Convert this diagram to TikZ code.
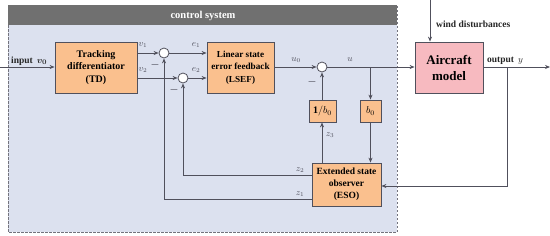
\documentclass[tikz,border=0pt]{standalone}
\usepackage{amsmath}
\usepackage{bm}
\usepackage{fontspec}
\setmainfont{Liberation Serif}
\usetikzlibrary{arrows.meta,calc}
\definecolor{panelfill}{RGB}{220,225,239}
\definecolor{headgray}{RGB}{112,112,112}
\definecolor{boxorange}{RGB}{250,192,142}
\definecolor{boxpink}{RGB}{247,186,192}
\definecolor{linecol}{RGB}{80,80,92}
\tikzset{
  blk/.style={draw=linecol, line width=0.8pt, fill=boxorange, inner sep=0pt, align=center,
    font=\bfseries\fontsize{10}{12.5}\selectfont},
  sumnode/.style={circle, draw=linecol, line width=0.8pt, fill=white, minimum size=10pt, inner sep=0pt},
  conn/.style={draw=linecol, line width=0.8pt},
  arr/.style={conn, -{Stealth[length=5pt,width=4pt]}},
  lbl/.style={font=\fontsize{9}{10}\selectfont, text=linecol, inner sep=0pt},
  txt/.style={font=\bfseries\fontsize{9.5}{11}\selectfont, text=black!85, inner sep=0pt}
}
\begin{document}
\begin{tikzpicture}[x=1pt,y=-1pt]
\useasboundingbox (0,0) rectangle (550,236);
% panel
\fill[panelfill] (8,5) rectangle (397,232);
\draw[linecol!80, line width=0.9pt, dash pattern=on 2.5pt off 1.5pt] (8,5) -- (8,232) -- (397,232) -- (397,5);
\fill[headgray] (8,5) rectangle (397,25);
\node[font=\bfseries\fontsize{10.5}{12}\selectfont, text=white] (cs) at (203,15.5) {control system};
% blocks
\node[blk, minimum width=82pt, minimum height=51pt] (td) at (96,67.5) {Tracking\\differentiator\\(TD)};
\node[blk, minimum width=67pt, minimum height=51pt, font=\bfseries\fontsize{9.2}{12.5}\selectfont] (lsef) at (240.5,67.5) {Linear state\\error feedback\\(LSEF)};
\node[blk, fill=boxpink, minimum width=68pt, minimum height=51pt, font=\bfseries\fontsize{13}{16}\selectfont] (ac) at (449,67.5) {Aircraft\\model};
\node[blk, minimum width=27pt, minimum height=22pt, font=\bfseries\fontsize{10}{11}\selectfont] (ib) at (322.5,111) {$\mathbf{1/}b_0$};
\node[blk, minimum width=21pt, minimum height=22pt, font=\fontsize{10}{11}\selectfont] (bb) at (370.5,111) {$b_0$};
\node[blk, minimum width=69pt, minimum height=43pt, font=\bfseries\fontsize{9.5}{12}\selectfont] (eso) at (346.5,184.5) {Extended state\\observer\\(ESO)};
% sums
\node[sumnode] (s1) at (164,53) {};
\node[sumnode] (s2) at (183,78) {};
\node[sumnode] (s3) at (322,67) {};
% coordinates
\coordinate (in) at (0,67);
\coordinate (wind) at (430,0);
\coordinate (out) at (550,67);
\coordinate (ubr) at (370.5,67);
\coordinate (ybr) at (507,67);
\coordinate (ydn) at (507,186);
\coordinate (z2c) at (183,175);
\coordinate (z1c) at (164,199);
% connectors
\draw[arr] (in) -- (td.west |- in);
\draw[arr] (td.east |- s1) -- (s1.west);
\draw[arr] (td.east |- s2) -- (s2.west);
\draw[arr] (s1.east) -- (lsef.west |- s1);
\draw[arr] (s2.east) -- (lsef.west |- s2);
\draw[arr] (lsef.east |- s3) -- (s3.west);
\draw[arr] (s3.east) -- (ac.west |- s3);
\draw[arr] (ubr) -- (bb.north);
\draw[arr] (bb.south) -- (eso.north -| bb);
\draw[arr] (eso.north -| s3) -- (ib.south -| s3);
\draw[arr] (ib.north -| s3) -- (s3.south);
\draw[arr] (eso.west |- z2c) -- (z2c) -- (s2.south);
\draw[arr] (eso.west |- z1c) -- (z1c) -- (s1.south);
\draw[arr] (wind) -- (ac.north -| wind);
\draw[arr] (ac.east |- out) -- (out);
\draw[arr] (ybr) -- (ydn) -- (eso.east |- ydn);
% labels
\node[txt, anchor=west] (linput) at (11,61) {input \,$\bm{v_0}$};
\node[lbl] (lv1) at (143,45) {$v_1$};
\node[lbl] (lv2) at (143,70) {$v_2$};
\node[lbl] (le1) at (196,45) {$e_1$};
\node[lbl] (le2) at (196,70) {$e_2$};
\node[lbl] (lu0) at (296,60) {$u_0$};
\node[lbl] (lu) at (350,60) {$u$};
\node[lbl] (lz3) at (330,135) {$z_3$};
\node[lbl] (lz2) at (300,170) {$z_2$};
\node[lbl] (lz1) at (300,194) {$z_1$};
\node[lbl, font=\bfseries\fontsize{10}{11}\selectfont] (m1) at (155,65) {$\bm{-}$};
\node[lbl, font=\bfseries\fontsize{10}{11}\selectfont] (m2) at (174,90) {$\bm{-}$};
\node[lbl, font=\bfseries\fontsize{10}{11}\selectfont] (m3) at (312,82) {$\bm{-}$};
\node[txt, anchor=west] (lwind) at (436,24) {wind disturbances};
\node[txt, anchor=west] (lout) at (487,61) {output \,$y$};
\end{tikzpicture}
\end{document}
